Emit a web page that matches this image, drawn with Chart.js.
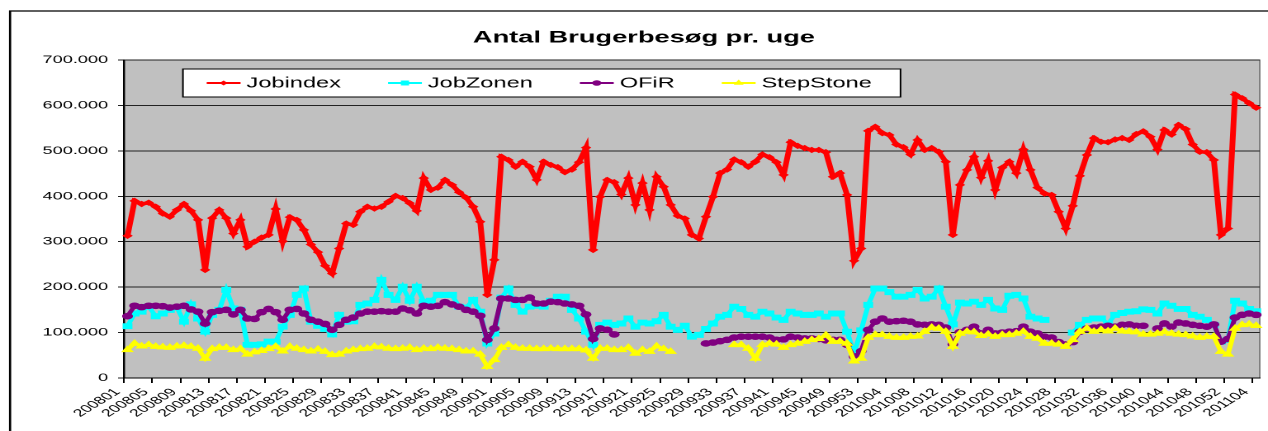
<!DOCTYPE html>
<html>
<head>
<meta charset="utf-8">
<title>Antal Brugerbesøg pr. uge</title>
<script src="https://cdn.jsdelivr.net/npm/chart.js@4.4.1/dist/chart.umd.min.js"></script>
<style>
  html, body { margin: 0; padding: 0; background: #fff; overflow: hidden; }
  /* the original picture is a horizontally stretched Excel chart */
  #wrap { width: 768px; height: 431px; transform: scaleX(1.651); transform-origin: 0 0; }
</style>
</head>
<body>
<div id="wrap"><canvas id="grafico" width="768" height="431"></canvas></div>
<script>
var titel = 'Antal Brugerbesøg pr. uge';

// uger: 2008 har 52, 2009 har 53, 2010 har 52, 2011 til uge 04
var aarstal = [2008, 2009, 2010, 2011];
var antalUger = [52, 53, 52, 4];
var uger = [];
aarstal.forEach(function (aar, n) {
	for (var u = 1; u <= antalUger[n]; u++) {
		uger.push(aar + (u < 10 ? '0' : '') + u);
	}
});

// besøg pr. uge, i tusinder
var jobindex = [
	313,390,383,386,377,362,355,370,383,368,
	348,238,352,370,352,318,348,289,300,309,
	315,372,301,354,348,326,294,277,247,230,
	285,340,337,366,377,373,377,388,401,396,
	385,368,440,414,419,436,425,409,397,377,
	344,183,260,487,480,465,476,465,436,476,
	469,464,453,459,475,507,282,399,436,431,
	404,440,381,429,370,443,421,381,357,351,
	315,307,355,399,451,459,481,475,465,476,
	492,486,475,447,519,511,506,502,502,497,
	443,451,403,258,285,544,553,539,535,514,
	508,492,524,502,506,498,476,315,425,458,
	487,441,478,414,463,476,451,503,458,419,
	406,403,366,329,379,445,491,528,520,519,
	525,528,524,537,543,531,503,546,536,557,
	548,514,498,497,480,315,329,624,616,605,
	595
];
var jobzonen = [
	114,142,146,157,136,142,150,155,124,162,
	131,102,139,150,194,153,150,73,73,74,
	80,80,113,139,183,197,124,115,108,96,
	139,124,125,161,164,172,216,183,172,201,
	170,201,168,170,183,183,183,157,155,172,
	146,76,98,177,197,161,146,157,159,157,
	170,179,179,150,131,102,73,117,122,117,
	120,131,113,122,120,125,139,113,106,115,
	91,95,108,120,135,139,157,152,139,135,
	146,142,133,128,146,142,139,139,142,135,
	142,142,102,55,105,161,197,197,189,179,
	179,183,194,175,179,197,157,118,166,164,
	168,161,172,153,150,181,183,175,135,131,
	128,null,null,null,100,117,128,131,131,120,
	139,143,146,147,151,150,142,164,159,152,
	152,139,135,128,117,80,84,170,164,152,
	147
];
var ofir = [
	136,159,156,159,159,158,155,157,159,151,
	146,120,145,148,150,140,150,131,130,145,
	152,145,128,150,152,142,128,124,119,106,
	117,128,133,142,146,146,147,146,146,153,
	149,142,159,157,159,167,162,157,150,146,
	137,84,109,175,175,172,172,177,164,164,
	168,167,164,162,159,140,86,109,106,96,
	null,null,null,null,null,null,null,null,null,null,
	null,null,76,78,81,84,89,91,91,91,
	91,89,84,85,91,89,87,87,86,83,
	84,84,73,47,59,106,124,131,124,125,
	126,124,118,117,118,117,111,74,101,106,
	113,98,106,98,100,102,103,113,102,98,
	91,89,79,74,79,102,109,111,113,115,
	113,117,118,115,115,null,109,120,113,122,
	120,117,115,113,118,80,86,133,139,142,
	139
];
var stepstone = [
	62,76,70,73,69,68,67,70,71,69,
	65,43,64,67,67,62,64,52,57,60,
	64,69,59,69,65,62,59,63,58,51,
	52,59,62,64,65,69,68,65,64,65,
	67,62,65,64,67,65,64,62,59,59,
	52,25,40,67,73,67,65,65,64,64,
	65,64,64,64,64,61,43,65,65,62,
	62,67,54,62,58,70,64,58,null,null,
	null,null,null,null,null,null,73,73,65,43,
	73,76,74,67,73,76,80,84,86,94,
	80,80,76,37,43,89,95,95,91,89,
	89,91,92,102,111,109,102,69,98,102,
	101,93,96,91,95,95,98,102,91,87,
	76,76,74,69,84,102,109,102,106,103,
	109,103,102,101,96,96,98,101,98,96,
	95,92,89,91,91,58,52,109,117,118,
	115
];

var yTicks = [0, 100000, 200000, 300000, 400000, 500000, 600000, 700000];

var skrift = 'Arial, "Liberation Sans", sans-serif';
Chart.defaults.font.family = skrift;
Chart.defaults.color = '#000';

function tusinder(v) {
	return String(v).replace(/\B(?=(\d{3})+(?!\d))/g, '.');
}

function serie(navn, data, farve, punkt, radius, bredde, orden) {
	return {
		label: navn,
		data: data.map(function (v) { return v === null ? null : v * 1000; }),
		borderColor: farve,
		backgroundColor: farve,
		borderWidth: bredde,
		pointStyle: punkt,
		pointRadius: radius,
		pointBorderWidth: 1,
		pointBorderColor: farve,
		pointBackgroundColor: farve,
		spanGaps: false,
		tension: 0,
		order: orden
	};
}

function tegnPunkt(ctx, stil, x, y, r, farve) {
	ctx.fillStyle = farve;
	ctx.beginPath();
	if (stil === 'circle') {
		ctx.arc(x, y, r, 0, 2 * Math.PI);
	} else if (stil === 'rect') {
		var s = r * Math.SQRT1_2;
		ctx.rect(x - s, y - s, 2 * s, 2 * s);
	} else if (stil === 'rectRot') {
		ctx.moveTo(x, y - r); ctx.lineTo(x + r, y); ctx.lineTo(x, y + r); ctx.lineTo(x - r, y); ctx.closePath();
	} else {
		ctx.moveTo(x, y - r); ctx.lineTo(x + r * 0.866, y + r * 0.5); ctx.lineTo(x - r * 0.866, y + r * 0.5); ctx.closePath();
	}
	ctx.fill();
}

/* baggrund, ramme, titel og forklaring som i Excel */
var excelPynt = {
	id: 'excelPynt',
	beforeDraw: function (chart) {
		var ctx = chart.ctx, a = chart.chartArea;
		ctx.save();
		ctx.fillStyle = '#fff';
		ctx.fillRect(0, 0, chart.width, chart.height);
		ctx.fillStyle = '#C0C0C0';
		ctx.fillRect(a.left, a.top, a.right - a.left, a.bottom - a.top);
		ctx.strokeStyle = '#808080';
		ctx.lineWidth = 1;
		ctx.strokeRect(a.left, a.top, a.right - a.left, a.bottom - a.top);
		ctx.strokeStyle = '#000';
		ctx.lineWidth = 1.3;
		ctx.beginPath();
		ctx.moveTo(6.1, chart.height + 5);
		ctx.lineTo(6.1, 11);
		ctx.lineTo(chart.width + 5, 11);
		ctx.stroke();
		ctx.fillStyle = '#000';
		ctx.font = 'bold 16.5px ' + skrift;
		ctx.textAlign = 'center';
		ctx.textBaseline = 'middle';
		ctx.fillText(titel, 390, 38);
		ctx.restore();
	},
	afterDraw: function (chart) {
		var ctx = chart.ctx;
		var venstre = 110.8, top = 69, hoejde = 28, luft = 14.4, linje = 20.5, mellem = 28.5;
		ctx.save();
		ctx.font = '14.3px ' + skrift;
		var bredde = luft * 2 + 3;
		chart.data.datasets.forEach(function (ds, i) {
			bredde += linje + 3.6 + ctx.measureText(ds.label).width + (i > 0 ? mellem : 0);
		});
		ctx.fillStyle = '#fff';
		ctx.fillRect(venstre, top, bredde, hoejde);
		ctx.strokeStyle = '#000';
		ctx.lineWidth = 1;
		ctx.strokeRect(venstre, top, bredde, hoejde);
		var x = venstre + luft, y = top + hoejde / 2;
		chart.data.datasets.forEach(function (ds) {
			ctx.strokeStyle = ds.borderColor;
			ctx.lineWidth = 2;
			ctx.beginPath();
			ctx.moveTo(x, y);
			ctx.lineTo(x + linje, y);
			ctx.stroke();
			tegnPunkt(ctx, ds.pointStyle, x + linje / 2, y, ds.pointRadius, ds.borderColor);
			x += linje + 3.6;
			ctx.fillStyle = '#000';
			ctx.textAlign = 'left';
			ctx.textBaseline = 'middle';
			ctx.fillText(ds.label, x, y + 0.5);
			x += ctx.measureText(ds.label).width + mellem;
		});
		ctx.restore();
	}
};

var grafico = new Chart(document.getElementById('grafico').getContext('2d'), {
	type: 'line',
	data: {
		labels: uger,
		datasets: [
			serie('Jobindex', jobindex, '#FF0000', 'rectRot', 2.5, 3.5, 4),
			serie('JobZonen', jobzonen, '#00FFFF', 'rect', 3.5, 3, 3),
			serie('OFiR', ofir, '#800080', 'circle', 2.8, 3, 2),
			serie('StepStone', stepstone, '#FFFF00', 'triangle', 3.5, 3, 1)
		]
	},
	options: {
		responsive: false,
		devicePixelRatio: 2,
		animation: false,
		events: [],
		layout: { padding: { top: 60, right: 4.8, left: 0, bottom: 0 } },
		plugins: {
			legend: { display: false },
			title: { display: false },
			tooltip: { enabled: false }
		},
		scales: {
			x: {
				offset: true,
				grid: {
					offset: true,
					drawOnChartArea: false,
					drawTicks: true,
					tickLength: 5,
					color: function (c) { return c.index % 4 === 0 ? '#000' : 'rgba(0,0,0,0)'; }
				},
				border: { color: '#000', width: 1 },
				ticks: {
					autoSkip: false,
					minRotation: 45,
					maxRotation: 45,
					padding: 3,
					labelOffset: -6,
					font: { size: 10.5 },
					callback: function (v, i) { return i % 4 === 0 ? this.getLabelForValue(v) : ''; }
				},
				afterFit: function (s) { s.height = 53; s.paddingLeft = 0; s.paddingRight = 0; }
			},
			y: {
				min: yTicks[0],
				max: yTicks[yTicks.length - 1],
				afterBuildTicks: function (s) { s.ticks = yTicks.map(function (v) { return { value: v }; }); },
				ticks: { padding: 6, font: { size: 11 }, callback: tusinder },
				grid: { color: '#222', lineWidth: 1, tickLength: 3.6 },
				border: { color: '#000', width: 1.2 },
				afterFit: function (s) { s.width = 75.1; s.paddingTop = 0; s.paddingBottom = 0; }
			}
		}
	},
	plugins: [excelPynt]
});
</script>
</body>
</html>
